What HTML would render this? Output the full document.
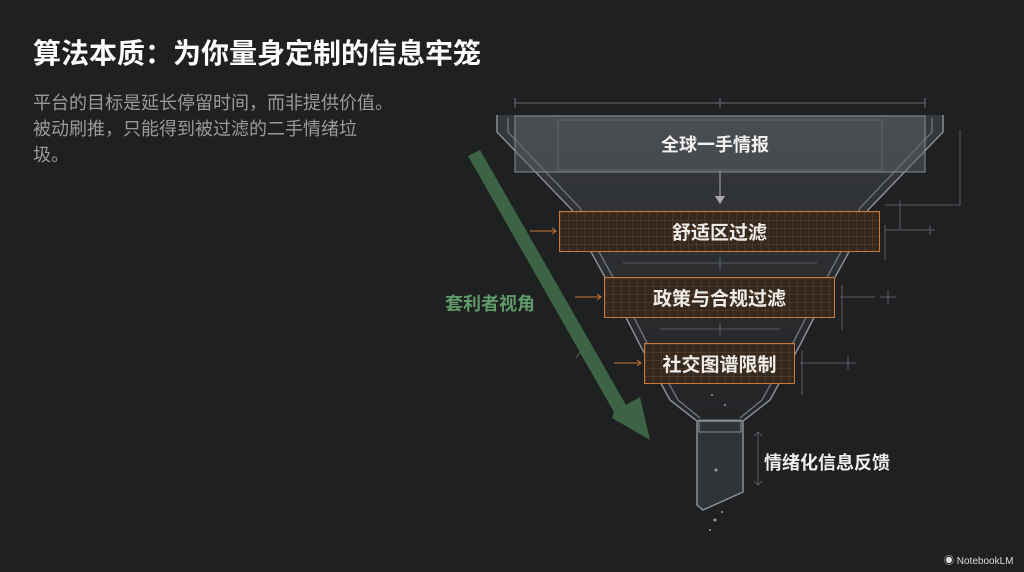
<!DOCTYPE html>
<html><head><meta charset="utf-8"><style>
body{margin:0;width:1024px;height:572px;background:#1f2022;overflow:hidden;position:relative;font-family:"Liberation Sans","Noto Sans CJK SC",sans-serif}
.t{position:absolute;left:33px;top:32px;font-size:28px;font-weight:bold;color:#fff;white-space:nowrap;letter-spacing:0}
.s{position:absolute;left:33px;top:90px;font-size:18px;line-height:26px;color:#9a9a9a;white-space:nowrap}
.box{position:absolute;border:1.5px solid #c7793a;background-color:#35291f;background-image:linear-gradient(rgba(200,120,60,.15) 1px,transparent 1px),linear-gradient(90deg,rgba(200,120,60,.15) 1px,transparent 1px);background-size:8px 8px;color:#f0ece8;font-weight:bold;font-size:19px;display:flex;align-items:center;justify-content:center;box-sizing:border-box}
.lab{position:absolute;font-weight:bold;white-space:nowrap}
</style></head><body>
<div class="t">算法本质：为你量身定制的信息牢笼</div>
<div class="s">平台的目标是延长停留时间，而非提供价值。<br>被动刷推，只能得到被过滤的二手情绪垃<br>圾。</div>
<svg width="1024" height="572" style="position:absolute;left:0;top:0">
<defs><linearGradient id="g" x1="0" y1="0" x2="0" y2="1"><stop offset="0" stop-color="#555a5e" stop-opacity=".8"/><stop offset="1" stop-color="#2a2d30" stop-opacity=".6"/></linearGradient></defs>
<g stroke="#6a6d70" stroke-width="1" fill="none">
<line x1="515" y1="103" x2="925" y2="103"/><line x1="515" y1="98" x2="515" y2="108"/><line x1="925" y1="98" x2="925" y2="108"/><line x1="720" y1="98" x2="720" y2="108"/>
</g>
<path d="M497 115 L943 115 L943 132 L868 210 L850 250 L828 290 L800 345 L770 400 L743 421 L697 421 L670 400 L640 345 L612 290 L590 250 L572 210 L497 132 Z" fill="url(#g)" opacity=".55"/>
<g stroke="#8a8e92" stroke-width="1.5" fill="none">
<path d="M497 115 L497 132 L572 210 L590 250 L612 290 L640 345 L670 400 L697 421"/>
<path d="M943 115 L943 132 L868 210 L850 250 L828 290 L800 345 L770 400 L743 421"/>
<path d="M508 118 L508 132 L580 208 L598 250 L620 290 L648 345 L678 400 L700 418" stroke="#6a6e72"/>
<path d="M932 118 L932 132 L860 208 L842 250 L820 290 L792 345 L762 400 L740 418" stroke="#6a6e72"/>
</g>
<rect x="515" y="116" width="410" height="56" fill="#5c6064" fill-opacity=".5" stroke="#8a8e92"/>
<rect x="558" y="120" width="324" height="50" fill="none" stroke="#6a6e72" stroke-width=".8"/>
<line x1="720" y1="172" x2="720" y2="198" stroke="#aaa"/><path d="M715 196 L725 196 L720 204 Z" fill="#aaa"/>
<g stroke="#5a5d60" fill="none">
<path d="M885 230 L935 230 M930 225 L930 235 M900 230 L900 200 M885 205 L960 205 L960 130 M885 225 L885 260"/>
<path d="M840 297 L875 297 M888 290 L888 304 M880 297 L896 297 M842 285 L842 330"/>
<path d="M800 363 L840 363 M848 356 L848 370 M840 363 L856 363 M802 350 L802 395"/>
<path d="M623 263 L817 263 M720 257 L720 270 M660 329 L780 329 M720 323 L720 336"/>
<path d="M758 432 L758 485 M754 436 L758 432 L762 436 M754 481 L758 485 L762 481"/>
<path d="M580 352 L612 405 M582 350 L576 358"/>
</g>
<g stroke="#c7793a" fill="none"><path d="M530 231 L556 231 M552 228 L556 231 L552 234 M575 297 L601 297 M597 294 L601 297 L597 300 M614 363 L641 363 M637 360 L641 363 L637 366"/></g>
<path d="M697 421 L743 421 L743 492 L703 510 L697 505 Z" fill="#3e4246" fill-opacity=".6" stroke="#8a8e92" stroke-width="1.5"/>
<rect x="699" y="420" width="42" height="12" fill="none" stroke="#8a8e92"/>
<g fill="#9a9ea2"><circle cx="715" cy="520" r="1.5"/><circle cx="710" cy="530" r="1"/><circle cx="722" cy="512" r="1"/><circle cx="716" cy="470" r="1.5"/><circle cx="725" cy="405" r="1"/><circle cx="712" cy="395" r="1"/></g>
<path d="M468 156 L480 150 L626 405 L640 397 L650 440 L612 418 L614 412 Z" fill="#3f6b48" opacity=".9"/>
</svg>
<div class="box" style="left:559px;top:211px;width:321px;height:41px">舒适区过滤</div>
<div class="box" style="left:604px;top:277px;width:231px;height:41px">政策与合规过滤</div>
<div class="box" style="left:644px;top:343px;width:151px;height:41px">社交图谱限制</div>
<div class="lab" style="left:661px;top:131px;font-size:18px;color:#f2f2f2">全球一手情报</div>
<div class="lab" style="left:445px;top:290px;font-size:18px;color:#5f9a68">套利者视角</div>
<div class="lab" style="left:764px;top:449px;font-size:18px;color:#eee">情绪化信息反馈</div>
<div style="position:absolute;left:944px;top:552px;font-size:10px;color:#ddd">◉ NotebookLM</div>
</body></html>
